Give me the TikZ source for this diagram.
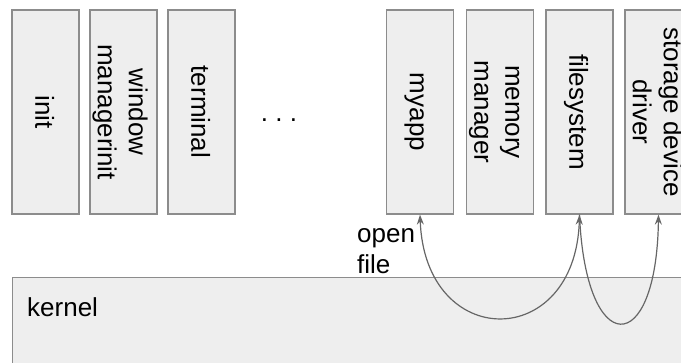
\documentclass[tikz,border=0pt]{standalone}
\usepackage{fontspec}
\setmainfont{Liberation Sans}
\usepackage{graphicx}
\usetikzlibrary{arrows.meta}

\definecolor{boxfill}{HTML}{EEEEEE}
\definecolor{boxline}{HTML}{8C8C8C}
\definecolor{linkline}{HTML}{666666}

\tikzset{
	proc/.style={draw=boxline, fill=boxfill, line width=1.3pt, inner sep=0pt,
		minimum width=67pt, minimum height=204pt},
	link/.style={draw=linkline, line width=1.2pt},
	tip/.tip={Stealth[length=10pt,width=7pt]},
}

% one process box, text running top to bottom
\newcommand{\procbox}[3]{
	\node[proc] (#1) at (#2,-112) {\rotatebox{-90}{\raisebox{-4pt}[\height][\depth]{\begin{tabular}{@{}c@{}}#3\end{tabular}}}};
}

\begin{document}
\begin{tikzpicture}[x=1pt,y=1pt]
	\useasboundingbox (0,0) rectangle (681,-362);
	\clip (0,0) rectangle (681,-362);
	\fontsize{26}{31}\selectfont

	\procbox{init}{45.5}{init}
	\procbox{winman}{123.5}{window\\managerinit}
	\procbox{terminal}{201.5}{terminal}
	\node[anchor=base] (dots) at (279,-121) {.\ .\ .};

	\procbox{myapp}{420}{myapp}
	\procbox{memman}{500}{memory\\manager}
	\procbox{filesystem}{579.5}{filesystem}
	\procbox{storage}{658.5}{storage device\\driver}

	\node[proc, anchor=north west, minimum width=720pt, minimum height=120pt] (kernel) at (12,-277) {};
	\node[anchor=base west, inner sep=0pt] (kernellabel) at ([xshift=15pt,yshift=-39pt]kernel.north west) {kernel};

	\node[anchor=west, align=left, inner sep=0pt] (openfile) at (357,-251) {open\\file};

	\draw[link, tip-tip] (myapp.south) .. controls +(5,-137) and +(-4,-137) .. (filesystem.south);
	\draw[link, -tip] (filesystem.south) .. controls +(6,-145) and +(-2,-145) .. (storage.south);
\end{tikzpicture}
\end{document}
